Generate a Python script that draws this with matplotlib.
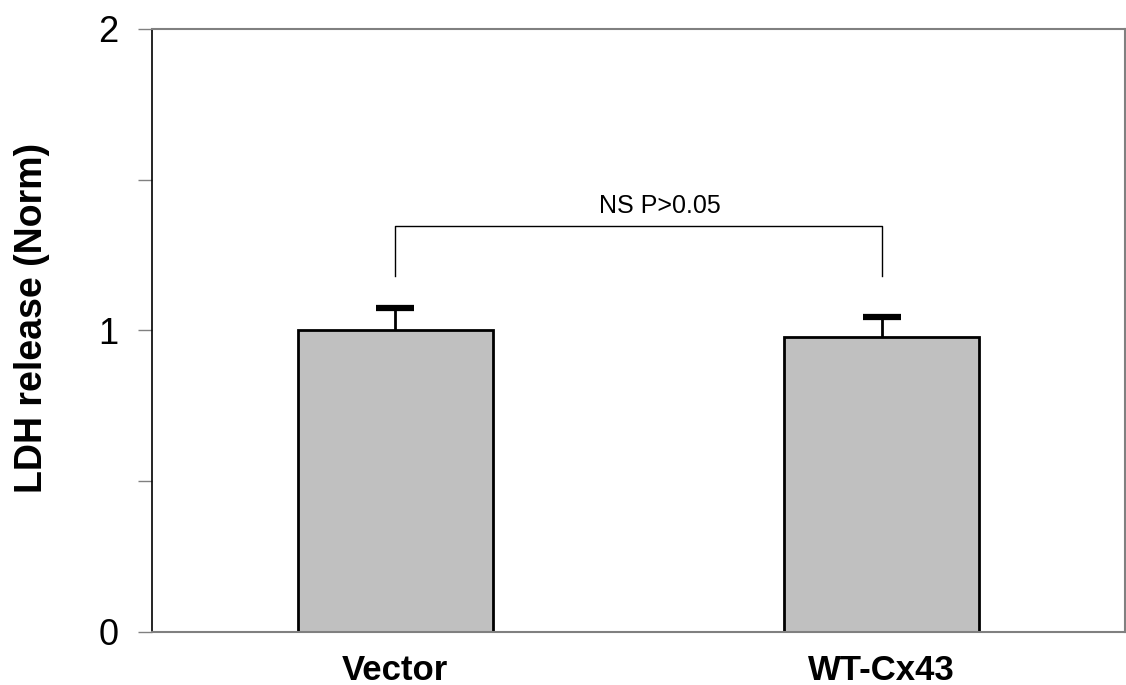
import matplotlib
matplotlib.use("Agg")
from matplotlib import pyplot as plt

groups = ["Vector", "WT-Cx43"]
ldh_mean = [1.0, 0.977]
ldh_err = [0.073, 0.069]
bracket_y = 1.348
bracket_leg = 1.18
sig_text = "NS P>0.05"

plt.rcParams['font.family'] = ['Liberation Sans', 'DejaVu Sans']

fig = plt.figure(figsize=(11.26, 6.85), dpi=100)
ax = fig.add_axes([0.135, 0.0774, 0.864, 0.8803])

x = list(range(len(groups)))
ax.bar(x, ldh_mean, width=0.4, color='#c0c0c0', edgecolor='black', linewidth=2, zorder=2)
eb = ax.errorbar(x, ldh_mean, yerr=[[0, 0], ldh_err], fmt='none', ecolor='black',
                 elinewidth=2, capsize=13.7, capthick=4.5, zorder=3)
# only the upper cap is shown
eb[1][0].set_visible(False)

# significance bracket between the two bar centres
ax.plot([x[0], x[0], x[1], x[1]], [bracket_leg, bracket_y, bracket_y, bracket_leg],
        color='black', lw=1, zorder=3)
ax.text(0.545, bracket_y + 0.04, sig_text, ha='center', va='baseline', fontsize=18)

ax.set_xlim(-0.5, 1.5)
ax.set_ylim(0, 2)
ax.set_yticks([0, 0.5, 1, 1.5, 2])
ax.set_yticklabels(['0', '', '1', '', '2'], fontsize=26)
ax.set_xticks(x)
ax.set_xticklabels(groups, fontsize=25, fontweight='bold')
ax.tick_params(axis='x', length=0, pad=16)
ax.tick_params(axis='y', length=10, width=1, color='#808080', pad=14)
ax.set_ylabel('LDH release (Norm)', fontsize=27, fontweight='bold')
ax.yaxis.set_label_coords(-0.105, 0.52)

for side in ['top', 'right', 'bottom']:
    ax.spines[side].set_color('#808080')
    ax.spines[side].set_linewidth(1.5)
ax.spines['left'].set_color('black')
ax.spines['left'].set_linewidth(1.2)

plt.savefig('out.png', dpi=100)
